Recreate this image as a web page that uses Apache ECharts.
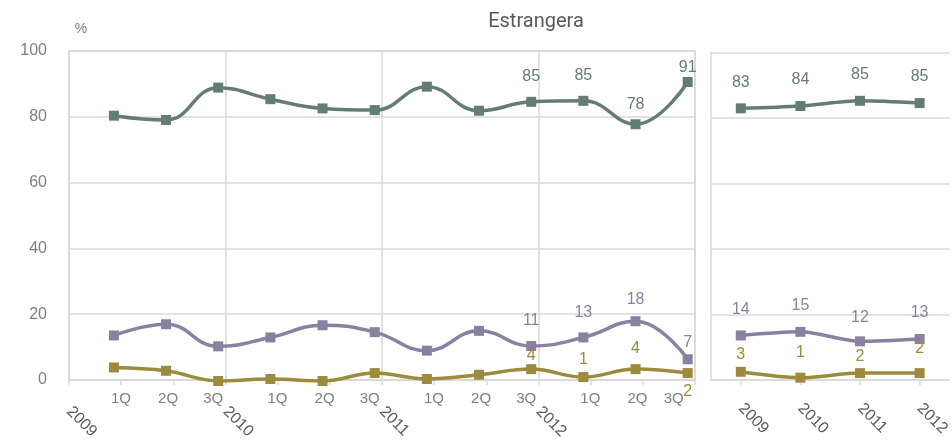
<!DOCTYPE html>
<html>
<head>
<meta charset="utf-8">
<script src="https://cdn.jsdelivr.net/npm/echarts@6/dist/echarts.min.js"></script>
<style>
html,body{margin:0;padding:0;background:#fff;}
#chart{width:952px;height:442px;}
</style>
</head>
<body>
<div id="chart"></div>
<script>
// ---- data ----
const years = ['2009', '2010', '2011', '2012'];
const quarters = ['1Q','2Q','3Q','1Q','2Q','3Q','1Q','2Q','3Q','1Q','2Q','3Q'];
const yTicks = [0, 20, 40, 60, 80, 100];

const greenQ  = [80.4, 79.1, 88.9, 85.4, 82.6, 82.1, 89.2, 81.9, 84.6, 84.9, 77.8, 90.6];
const purpleQ = [13.8, 17.2, 10.5, 13.2, 16.9, 14.8, 9.2, 15.2, 10.6, 13.2, 18.1, 6.6];
const oliveQ  = [4.1, 3.1, 0.0, 0.6, 0.0, 2.4, 0.6, 1.9, 3.6, 1.2, 3.6, 2.4];

const greenY  = [82.9, 83.6, 85.2, 84.5];
const purpleY = [13.6, 14.7, 11.8, 12.5];
const oliveY  = [2.5, 0.7, 2.1, 2.1];

const labelStart = 8; // quarterly labels only shown from 3Q 2011 on

// ---- style ----
const C_GREEN = '#647d73', C_PURPLE = '#8b80a2', C_OLIVE = '#9c8a3d';
const GRID = '#d9d9d9', AXIS_TXT = '#7f7f7f', YEAR_TXT = '#595959';
const FONT = 'Liberation Sans';
const distQ = { green: [12, 12, 7, 1], purple: [12, 12, 9, 4], olive: [1, 4, 8, 6] };
const distY = { green: [13, 13, 13, 13], purple: [13, 13, 11, 13], olive: [4, 12, 4, 12] };
// horizontal nudge of quarter labels (px), by position within the year
const qShift = [7, 2, -5];

// boundaries of quarter bands: year label at each year start
const bounds = [];
years.forEach(y => { bounds.push(y, '', ''); });
bounds.push('');

const quarterItems = quarters.map((q, i) => {
  let s = qShift[i % 3];
  if (i === quarters.length - 1) s = -14;
  const pad = s >= 0 ? [0, 0, 0, 2 * s] : [0, -2 * s, 0, 0];
  return { value: q, textStyle: { padding: pad } };
});

function itemsQ(vals, dist, lastBottom) {
  return vals.map((v, i) => {
    const show = i >= labelStart;
    const k = i - labelStart;
    return {
      value: v,
      label: {
        show: show,
        distance: show ? dist[k] : 5,
        position: (lastBottom && i === vals.length - 1) ? 'bottom' : 'top'
      }
    };
  });
}
function itemsY(vals, dist) {
  return vals.map((v, i) => ({ value: v, label: { show: true, distance: dist[i], position: 'top' } }));
}

function lineSeries(name, color, data, xi, yi, smooth) {
  return {
    name: name,
    type: 'line',
    xAxisIndex: xi, yAxisIndex: yi,
    data: data,
    smooth: smooth,
    symbol: 'rect',
    symbolSize: 10,
    showAllSymbol: true,
    lineStyle: { color: color, width: 3.5 },
    itemStyle: { color: color },
    label: {
      color: color,
      fontFamily: FONT,
      fontSize: 16,
      formatter: p => String(Math.round(p.value))
    },
    emphasis: { disabled: true },
    animation: false
  };
}

const chart = echarts.init(document.getElementById('chart'), null, { renderer: 'canvas' });

const option = {
  animation: false,
  backgroundColor: '#ffffff',
  textStyle: { fontFamily: FONT },
  graphic: [
    { type: 'text', x: 536, y: 22, style: { text: 'Estrangera', font: '20px Roboto', fill: '#595959', textAlign: 'center', textVerticalAlign: 'middle' } },
    { type: 'text', x: 81, y: 29, style: { text: '%', font: '14px "Liberation Sans"', fill: AXIS_TXT, textAlign: 'center', textVerticalAlign: 'middle' } }
  ],
  grid: [
    { left: 69, top: 51, width: 626, height: 330, show: true, borderColor: GRID, borderWidth: 1.5, backgroundColor: 'transparent' },
    { left: 113.9, top: 51, width: 573.8, height: 330 },
    { left: 711, top: 52.3, width: 243, height: 327.7 }
  ],
  xAxis: [
    {
      gridIndex: 0, type: 'category', boundaryGap: false, data: bounds,
      axisLine: { show: true, lineStyle: { color: GRID, width: 1.5 } },
      axisTick: { show: true, interval: 0, length: 5, lineStyle: { color: GRID, width: 1.5 } },
      axisLabel: { interval: 0, rotate: -45, margin: 29, color: YEAR_TXT, fontSize: 16, fontFamily: FONT },
      splitLine: { show: true, interval: (i) => i % 3 === 0, lineStyle: { color: GRID, width: 1.5 } }
    },
    {
      gridIndex: 1, type: 'category', boundaryGap: false, data: quarterItems,
      axisLine: { show: false }, axisTick: { show: false },
      axisLabel: { interval: 0, margin: 10, color: AXIS_TXT, fontSize: 15, fontFamily: FONT },
      splitLine: { show: false }
    },
    {
      gridIndex: 2, type: 'category', boundaryGap: true, data: years,
      axisLine: { show: true, lineStyle: { color: GRID, width: 1.5 } },
      axisTick: { show: true, alignWithLabel: true, length: 5, lineStyle: { color: GRID, width: 1.5 } },
      axisLabel: { interval: 0, rotate: -45, margin: 26, color: YEAR_TXT, fontSize: 16, fontFamily: FONT },
      splitLine: { show: false }
    }
  ],
  yAxis: [
    {
      gridIndex: 0, type: 'value', min: yTicks[0], max: yTicks[yTicks.length - 1], interval: yTicks[1] - yTicks[0],
      axisLine: { show: true, lineStyle: { color: GRID, width: 1.5 } },
      axisTick: { show: false },
      axisLabel: { color: AXIS_TXT, fontSize: 16, fontFamily: FONT, margin: 22 },
      splitLine: { show: true, lineStyle: { color: GRID, width: 1.5 } }
    },
    {
      gridIndex: 1, type: 'value', min: yTicks[0], max: yTicks[yTicks.length - 1],
      show: false, splitLine: { show: false }
    },
    {
      gridIndex: 2, type: 'value', min: yTicks[0], max: yTicks[yTicks.length - 1], interval: yTicks[1] - yTicks[0],
      axisLine: { show: true, lineStyle: { color: GRID, width: 1.5 } },
      axisTick: { show: false },
      axisLabel: { show: false },
      splitLine: { show: true, lineStyle: { color: GRID, width: 1.5 } }
    }
  ],
  series: [
    lineSeries('olive-q', C_OLIVE, itemsQ(oliveQ, distQ.olive, true), 1, 1, 0.4),
    lineSeries('purple-q', C_PURPLE, itemsQ(purpleQ, distQ.purple, false), 1, 1, 0.45),
    lineSeries('green-q', C_GREEN, itemsQ(greenQ, distQ.green, false), 1, 1, 0.45),
    lineSeries('olive-y', C_OLIVE, itemsY(oliveY, distY.olive), 2, 2, 0.3),
    lineSeries('purple-y', C_PURPLE, itemsY(purpleY, distY.purple), 2, 2, 0.3),
    lineSeries('green-y', C_GREEN, itemsY(greenY, distY.green), 2, 2, 0.3)
  ]
};
chart.setOption(option);
</script>
</body>
</html>
